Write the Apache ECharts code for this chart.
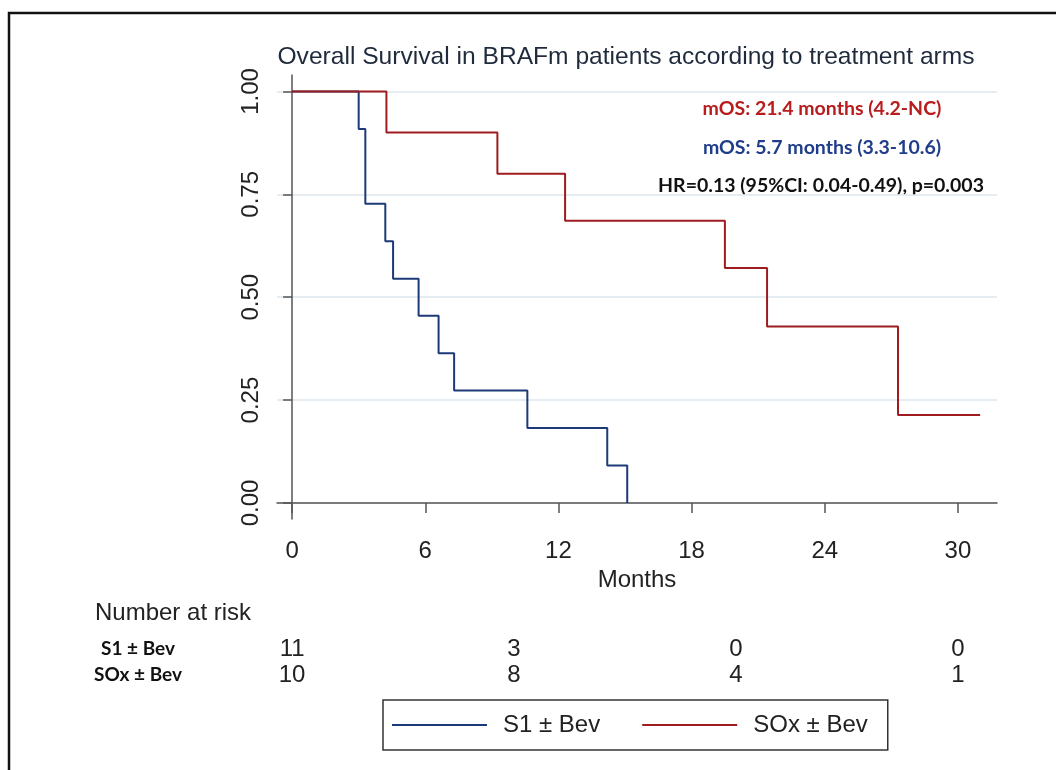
<!DOCTYPE html>
<html>
<head>
<meta charset="utf-8">
<script src="https://cdn.jsdelivr.net/npm/echarts@6/dist/echarts.min.js"></script>
<style>
  html, body { margin: 0; padding: 0; background: #fff; }
  #chart { width: 1056px; height: 770px; }
</style>
</head>
<body>
<div id="chart"></div>
<script>
// KM curves (months, survival)
const s1Times = [0, 3.0, 3.3, 4.2, 4.55, 5.7, 6.6, 7.3, 10.6, 14.2, 15.1];
const s1Surv = [1, 0.909, 0.727, 0.636, 0.545, 0.455, 0.364, 0.273, 0.182, 0.091, 0];
const soxTimes = [0, 4.25, 9.25, 12.3, 19.5, 21.4, 27.3, 31.0];
const soxSurv = [1, 0.9, 0.8, 0.686, 0.571, 0.429, 0.214, 0.214];

// number at risk table
const riskGroups = ['S1 ± Bev', 'SOx ± Bev'];
const riskTimes = [0, 10, 20, 30];
const riskS1 = [11, 3, 0, 0];
const riskSOx = [10, 8, 4, 1];

const xTicks = [0, 6, 12, 18, 24, 30];
const yTicks = [0, 0.25, 0.5, 0.75, 1];

const SANS = '"Liberation Sans", Arial, sans-serif';
const BOLD = 'Lato, "Open Sans", sans-serif';

const zip = (xs, ys) => xs.map((x, i) => [x, ys[i]]);

const riskData = [];
riskTimes.forEach((t, i) => {
  riskData.push([t, 0, riskS1[i]]);
  riskData.push([t, 1, riskSOx[i]]);
});

const chart = echarts.init(document.getElementById('chart'));
chart.setOption({
  animation: false,
  grid: [
    { left: 277, right: 59, top: 75, bottom: 251 },
    { left: 277, right: 59, top: 636, height: 52 }
  ],
  xAxis: [
    {
      type: 'value', gridIndex: 0, min: -0.68, max: 31.76,
      name: 'Months', nameLocation: 'middle', nameGap: 46,
      nameTextStyle: { fontFamily: SANS, fontSize: 24, color: '#222' },
      axisLine: { show: true, lineStyle: { color: '#555', width: 1.5 } },
      axisTick: { show: true, length: 10, customValues: xTicks, lineStyle: { color: '#555', width: 1.5 } },
      axisLabel: { customValues: xTicks, fontFamily: SANS, fontSize: 24, color: '#222', margin: 20 },
      splitLine: { show: false }
    },
    {
      type: 'value', gridIndex: 1, min: -0.68, max: 31.76, show: false
    }
  ],
  yAxis: [
    {
      type: 'value', gridIndex: 0, min: -0.039, max: 1.04,
      axisLine: { show: true, lineStyle: { color: '#555', width: 1.5 } },
      axisTick: { show: true, length: 9, customValues: yTicks, lineStyle: { color: '#555', width: 1.5 } },
      axisLabel: {
        customValues: yTicks, rotate: 90, fontFamily: SANS, fontSize: 24, color: '#222', margin: 14,
        formatter: v => v.toFixed(2)
      },
      splitLine: { show: true, lineStyle: { color: '#dce7ef', width: 1.5 } }
    },
    {
      type: 'category', gridIndex: 1, data: riskGroups, inverse: true,
      axisLine: { show: false }, axisTick: { show: false }, splitLine: { show: false },
      axisLabel: { fontFamily: BOLD, fontWeight: 'bold', fontSize: 19, color: '#111', align: 'center', margin: 139 }
    }
  ],
  legend: {
    data: ['S1 ± Bev', 'SOx ± Bev'],
    left: 383, top: 700,
    icon: 'rect', itemWidth: 95, itemHeight: 2, itemGap: 42,
    padding: [12, 20, 12, 9],
    borderColor: '#333', borderWidth: 1.5,
    selectedMode: false,
    textStyle: { fontFamily: SANS, fontSize: 24, color: '#222', padding: [0, 0, 0, 11], lineHeight: 26 }
  },
  graphic: [
    { type: 'rect', shape: { x: 9, y: 13, width: 1200, height: 900 }, style: { fill: 'none', stroke: '#111', lineWidth: 2.5 }, silent: true },
    { type: 'text', x: 626, y: 57, style: { text: 'Overall Survival in BRAFm patients according to treatment arms', font: '24.6px ' + SANS, fill: '#1f2a3c', align: 'center', verticalAlign: 'middle' } },
    { type: 'text', x: 822, y: 109, style: { text: 'mOS: 21.4 months (4.2-NC)', font: 'bold 19.5px ' + BOLD, fill: '#b81c1c', align: 'center', verticalAlign: 'middle' } },
    { type: 'text', x: 822, y: 148, style: { text: 'mOS: 5.7 months (3.3-10.6)', font: 'bold 19.5px ' + BOLD, fill: '#1f3d8a', align: 'center', verticalAlign: 'middle' } },
    { type: 'text', x: 821, y: 186, style: { text: 'HR=0.13 (95%CI: 0.04-0.49), p=0.003', font: 'bold 19.5px ' + BOLD, fill: '#111', align: 'center', verticalAlign: 'middle' } },
    { type: 'text', x: 95, y: 613, style: { text: 'Number at risk', font: '24px ' + SANS, fill: '#222', align: 'left', verticalAlign: 'middle' } }
  ],
  series: [
    {
      name: 'S1 ± Bev', type: 'line', step: 'end', symbol: 'none',
      xAxisIndex: 0, yAxisIndex: 0,
      data: zip(s1Times, s1Surv),
      color: '#1c3a78',
      lineStyle: { width: 2, color: '#1c3a78' }
    },
    {
      name: 'SOx ± Bev', type: 'line', step: 'end', symbol: 'none',
      xAxisIndex: 0, yAxisIndex: 0,
      data: zip(soxTimes, soxSurv),
      color: '#9e1c20',
      lineStyle: { width: 2, color: '#9e1c20' }
    },
    {
      name: 'risk', type: 'scatter', xAxisIndex: 1, yAxisIndex: 1,
      data: riskData, symbolSize: 0, silent: true,
      itemStyle: { color: '#222', opacity: 1 },
      label: {
        show: true, position: 'inside', formatter: p => p.value[2],
        fontFamily: SANS, fontSize: 24, color: '#222', textBorderWidth: 0, opacity: 1
      }
    }
  ]
});
</script>
</body>
</html>
